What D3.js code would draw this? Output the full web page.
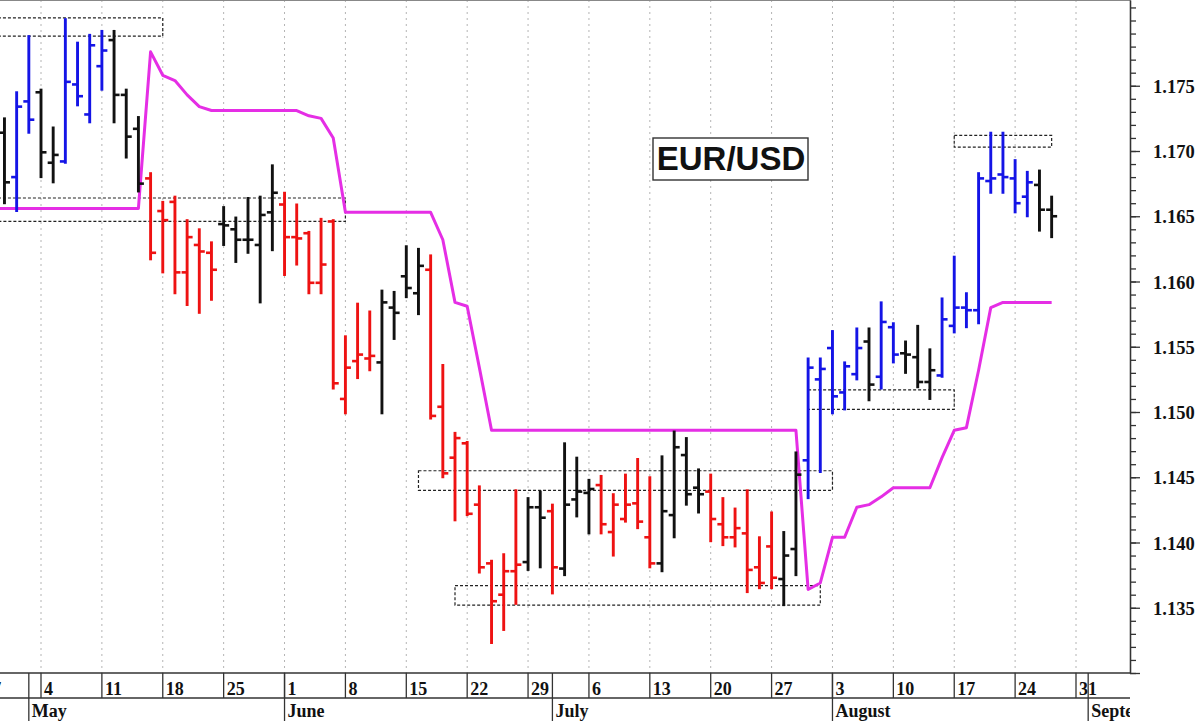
<!DOCTYPE html>
<html><head><meta charset="utf-8">
<script src="https://cdn.jsdelivr.net/npm/d3@7"></script>
<style>html,body{margin:0;padding:0;background:#fff;} svg{display:block}</style>
</head><body>
<svg id="chart" width="1200" height="721"></svg>
<script>
// ---------- data ----------
const firstBar = "2020-04-29";           // bars are consecutive trading days from here
const open  = [1.1714,1.1680,1.1738,1.1745,1.1691,1.1692,1.1751,1.1728,1.1765,1.1785,1.1743,1.1717,
  1.1679,1.1654,1.1661,1.1607,1.1628,1.1622, 1.1644,1.1640,1.1632,1.1628,1.1653,
  1.1659,1.1634,1.1637,1.1599,1.1646,1.1510,1.1539,1.1541, 1.1538,1.1580,1.1604,1.1591,
  1.1609,1.1504,1.1465,1.1476,1.1429,1.1384,1.1360,1.1378, 1.1385,1.1427,1.1424,1.1380,1.1433,1.1438,
  1.1444,1.1408,1.1418,1.1430,1.1404, 1.1384,1.1421,1.1467,1.1442,
  1.1439,1.1414,1.1404,1.1407,1.1381,1.1397, 1.1372,1.1395,
  1.1463,1.1525,1.1549,1.1515,1.1529,1.1554,1.1527,1.1565,1.1545,1.1542,1.1523,
  1.1528,1.1566,1.1580,1.1578,1.1677,1.1682,1.1679,1.1665,1.1674,1.1655];
const high  = [1.1725,1.1745,1.1788,1.1747,1.1718,1.1801,1.1783,1.1789,1.1792,1.1792,1.1747,1.1726,
  1.1683,1.1661,1.1665,1.1647,1.1640,1.1630, 1.1657,1.1649,1.1664,1.1665,1.1689,
  1.1668,1.1659,1.1638,1.1648,1.1647,1.1558,1.1583,1.1577, 1.1593,1.1592,1.1627,1.1625,
  1.1620,1.1536,1.1484,1.1477,1.1443,1.1386,1.1391,1.1440, 1.1434,1.1439,1.1429,1.1476,1.1465,1.1448,
  1.1451,1.1437,1.1452,1.1464,1.1450, 1.1466,1.1485,1.1480,1.1456,
  1.1452,1.1434,1.1426,1.1440,1.1404,1.1423, 1.1408,1.1469,
  1.1541,1.1541,1.1562,1.1538,1.1564,1.1564,1.1584,1.1568,1.1554,1.1566,1.1548,
  1.1587,1.1619,1.1591,1.1683,1.1714,1.1714,1.1693,1.1684,1.1685,1.1665];
const low   = [1.1660,1.1654,1.1714,1.1680,1.1676,1.1691,1.1735,1.1722,1.1747,1.1722,1.1695,1.1669,
  1.1617,1.1607,1.1591,1.1582,1.1576,1.1586, 1.1628,1.1615,1.1622,1.1584,1.1624,
  1.1605,1.1613,1.1591,1.1591,1.1518,1.1499,1.1526,1.1532, 1.1499,1.1556,1.1588,1.1575,
  1.1495,1.1450,1.1417,1.1421,1.1377,1.1323,1.1333,1.1353, 1.1379,1.1381,1.1361,1.1375,1.1420,1.1407,
  1.1407,1.1390,1.1416,1.1411,1.1381, 1.1378,1.1404,1.1429,1.1423,
  1.1401,1.1398,1.1397,1.1362,1.1365,1.1365, 1.1352,1.1375,
  1.1434,1.1454,1.1499,1.1502,1.1525,1.1509,1.1518,1.1538,1.1530,1.1519,1.1510,
  1.1527,1.1561,1.1565,1.1568,1.1668,1.1668,1.1653,1.1650,1.1639,1.1634];
const close = [1.1676,1.1734,1.1724,1.1699,1.1697,1.1753,1.1742,1.1781,1.1777,1.1743,1.1711,1.1675,
  1.1622,1.1647,1.1607,1.1634,1.1623,1.1609, 1.1643,1.1632,1.1632,1.1651,1.1668,
  1.1634,1.1633,1.1599,1.1613,1.1522,1.1534,1.1544,1.1543, 1.1584,1.1576,1.1595,1.1612,
  1.1497,1.1453,1.1480,1.1422,1.1381,1.1355,1.1378,1.1383, 1.1427,1.1419,1.1381,1.1429,1.1439,1.1441,
  1.1414,1.1429,1.1429,1.1416,1.1384, 1.1424,1.1473,1.1437,1.1437,
  1.1418,1.1404,1.1411,1.1379,1.1369,1.1373, 1.1390,1.1452,
  1.1534,1.1533,1.1512,1.1535,1.1549,1.1521,1.1569,1.1544,1.1544,1.1523,1.1532,
  1.1571,1.1580,1.1578,1.1679,1.1679,1.1680,1.1660,1.1676,1.1655,1.1650];
const barColor = ("kbbkkbbbbkkk"+"rrrrrr"+"kkkkk"+"rrrrrrrr"+"kkkk"+"rrrrrrrr"+"kk"+"r"+"kkk"+"rrrrr"+"kkkk"+"rrrrrr"+"kk"+"bbbbb"+"k"+"bb"+"kkk"+"bbbbbbbb"+"kk").split("");

const stopStart = "2020-04-28";
const stopLine = [1.1656,1.1656,1.1656,1.1656,1.1656,1.1656,1.1656,1.1656,1.1656,1.1656,1.1656,1.1656,1.1656,
  1.1776,1.1758,1.1754,1.1743,1.1734,
  1.1731,1.1731,1.1731,1.1731,1.1731,1.1731,1.1731,1.1731,
  1.1727,1.1725,1.1710,
  1.1653,1.1653,1.1653,1.1653,1.1653,1.1653,1.1653,1.1653,
  1.1632,1.1584,1.1581,1.1534,
  1.1486,1.1486,1.1486,1.1486,1.1486,1.1486,1.1486,1.1486,1.1486,1.1486,1.1486,1.1486,1.1486,
  1.1486,1.1486,1.1486,1.1486,1.1486,1.1486,1.1486,1.1486,1.1486,1.1486,1.1486,1.1486,1.1486,
  1.1364,1.1369,1.1404,1.1404,1.1427,1.1429,1.1435,
  1.1442,1.1442,1.1442,1.1442,
  1.1465,1.1486,1.1488,1.1532,1.1580,
  1.1584,1.1584,1.1584,1.1584,1.1584];

const boxStart = ["2020-04-24","2020-04-24","2020-06-16","2020-06-19","2020-07-30","2020-08-17"];
const boxEnd   = ["2020-05-18","2020-06-08","2020-08-03","2020-07-31","2020-08-17","2020-08-27"];
const boxLow   = [1.1788,1.1646,1.1440,1.1352,1.1502,1.1703];
const boxHigh  = [1.1802,1.1664,1.1455,1.1367,1.1517,1.1712];

const monthStarts = ["2020-05-01","2020-06-01","2020-07-01","2020-08-03","2020-09-01"];
const monthLabels = ["May","June","July","August","September"];
const title = "EUR/USD";

// ---------- trading-day calendar ----------
const days = d3.utcDay.range(new Date("2020-04-20T00:00Z"), new Date("2020-09-05T00:00Z"))
  .filter(d => d.getUTCDay() !== 0 && d.getUTCDay() !== 6);
const key = d3.utcFormat("%Y-%m-%d");
const idxOf = new Map(days.map((d, i) => [key(d), i]));
const idx = s => idxOf.get(s);
const mondays = days.filter(d => d.getUTCDay() === 1);

// ---------- layout ----------
const W = 1200, H = 721, plotRight = 1130, plotBottom = 673, row1 = 698;
const x = d3.scaleLinear().domain([idx("2020-05-04"), idx("2020-08-31")]).range([41, 1076]);
const y = d3.scaleLinear().domain([1.130, 1.175]).range([plotBottom, 85.75]);
const yTop = y.invert(0);
const visMondays = mondays.filter(d => x(idx(key(d))) > -30 && x(idx(key(d))) < plotRight);

const svg = d3.select("#chart");
svg.append("rect").attr("width", W).attr("height", H).attr("fill", "#fff");
const defs = svg.append("defs");
defs.append("clipPath").attr("id", "plotClip").append("rect")
  .attr("x", 0).attr("y", 0).attr("width", plotRight).attr("height", plotBottom);
defs.append("clipPath").attr("id", "axisClip").append("rect")
  .attr("x", 0).attr("y", plotBottom).attr("width", plotRight).attr("height", H - plotBottom);

const plot = svg.append("g").attr("clip-path", "url(#plotClip)");

// weekly grid
plot.append("g").selectAll("line").data(visMondays).join("line")
  .attr("x1", d => x(idx(key(d)))).attr("x2", d => x(idx(key(d))))
  .attr("y1", 0).attr("y2", plotBottom)
  .attr("stroke", "#b4b4b4").attr("stroke-width", 1).attr("stroke-dasharray", "2,4");

// top frame line
svg.append("line").attr("x1", 0).attr("x2", plotRight).attr("y1", 0.5).attr("y2", 0.5)
  .attr("stroke", "#888").attr("stroke-width", 1.2);

// dashed boxes
plot.append("g").selectAll("rect").data(boxStart.map((s, i) => i)).join("rect")
  .attr("x", i => x(idx(boxStart[i])))
  .attr("width", i => x(idx(boxEnd[i])) - x(idx(boxStart[i])))
  .attr("y", i => y(boxHigh[i]))
  .attr("height", i => y(boxLow[i]) - y(boxHigh[i]))
  .attr("fill", "none").attr("stroke", "#222").attr("stroke-width", 1.2)
  .attr("stroke-dasharray", "3,2");

// magenta stop line
const s0 = idx(stopStart);
plot.append("path").datum(stopLine)
  .attr("d", d3.line().x((v, i) => x(s0 + i)).y(v => y(v)))
  .attr("fill", "none").attr("stroke", "#e52ee5").attr("stroke-width", 3)
  .attr("stroke-linejoin", "round");

// OHLC bars
const colors = {k: "#111111", b: "#1414e6", r: "#ee1212"};
const b0 = idx(firstBar);
const bars = plot.append("g").selectAll("g").data(open.map((o, i) => i)).join("g")
  .attr("stroke", i => colors[barColor[i]]);
bars.append("line")
  .attr("x1", i => x(b0 + i)).attr("x2", i => x(b0 + i))
  .attr("y1", i => y(high[i]) - 1).attr("y2", i => y(low[i]) + 1)
  .attr("stroke-width", 2.9);
bars.append("line")
  .attr("x1", i => x(b0 + i) - 5.5).attr("x2", i => x(b0 + i))
  .attr("y1", i => y(open[i])).attr("y2", i => y(open[i]))
  .attr("stroke-width", 2.6);
bars.append("line")
  .attr("x1", i => x(b0 + i)).attr("x2", i => x(b0 + i) + 5.5)
  .attr("y1", i => y(close[i])).attr("y2", i => y(close[i]))
  .attr("stroke-width", 2.6);

// title box
const tg = svg.append("g");
tg.append("rect").attr("x", 653).attr("y", 138).attr("width", 155).attr("height", 42)
  .attr("fill", "#fff").attr("stroke", "#333").attr("stroke-width", 1.4);
tg.append("text").attr("x", 731).attr("y", 170).attr("text-anchor", "middle")
  .attr("font-family", "'Liberation Sans', Arial, sans-serif").attr("font-weight", "bold")
  .attr("font-size", 33).attr("fill", "#111").text(title);

// right price axis
const yAxisScale = y.copy().domain([1.130, yTop]).range([plotBottom, 0]);
const minorTicks = d3.range(1130, 1182).map(k => k / 1000);
const majorTicks = d3.range(1130, 1180, 5).map(k => k / 1000);
const axMinor = svg.append("g").attr("transform", `translate(${plotRight},0)`)
  .call(d3.axisRight(yAxisScale).tickValues(minorTicks).tickSize(6).tickSizeOuter(0).tickFormat(""));
const axMajor = svg.append("g").attr("transform", `translate(${plotRight},0)`)
  .call(d3.axisRight(yAxisScale).tickValues(majorTicks).tickSize(10).tickSizeOuter(0).tickPadding(13)
    .tickFormat(v => v < 1.1325 ? "" : d3.format(".3f")(v)));
[axMinor, axMajor].forEach(a => {
  a.selectAll("path,line").attr("stroke", "#333").attr("stroke-width", 1.3);
  a.selectAll("text").attr("font-family", "'Liberation Serif', 'Times New Roman', serif")
    .attr("font-weight", "bold").attr("font-size", 18.5).attr("fill", "#111").attr("dy", "0.36em");
});

// date rows
const ax = svg.append("g");
ax.append("line").attr("x1", 0).attr("x2", plotRight).attr("y1", plotBottom).attr("y2", plotBottom)
  .attr("stroke", "#333").attr("stroke-width", 1.3);
ax.append("line").attr("x1", 0).attr("x2", plotRight).attr("y1", row1).attr("y2", row1)
  .attr("stroke", "#333").attr("stroke-width", 1.3);
const axc = ax.append("g").attr("clip-path", "url(#axisClip)");
axc.selectAll("line.wk").data(visMondays).join("line").attr("class", "wk")
  .attr("x1", d => x(idx(key(d)))).attr("x2", d => x(idx(key(d))))
  .attr("y1", plotBottom).attr("y2", row1).attr("stroke", "#333").attr("stroke-width", 1.3);
axc.selectAll("text.wk").data(visMondays).join("text").attr("class", "wk")
  .attr("x", d => x(idx(key(d))) + 3).attr("y", 695)
  .attr("font-family", "'Liberation Serif', 'Times New Roman', serif").attr("font-weight", "bold")
  .attr("font-size", 18).attr("fill", "#111").text(d => d.getUTCDate());
axc.selectAll("line.mo").data(monthStarts).join("line").attr("class", "mo")
  .attr("x1", d => x(idx(d))).attr("x2", d => x(idx(d)))
  .attr("y1", plotBottom).attr("y2", H).attr("stroke", "#333").attr("stroke-width", 1.3);
axc.selectAll("text.mo").data(monthStarts).join("text").attr("class", "mo")
  .attr("x", d => x(idx(d)) + 3).attr("y", 717)
  .attr("font-family", "'Liberation Serif', 'Times New Roman', serif").attr("font-weight", "bold")
  .attr("font-size", 18).attr("fill", "#111").text((d, i) => monthLabels[i]);
</script>
</body></html>
